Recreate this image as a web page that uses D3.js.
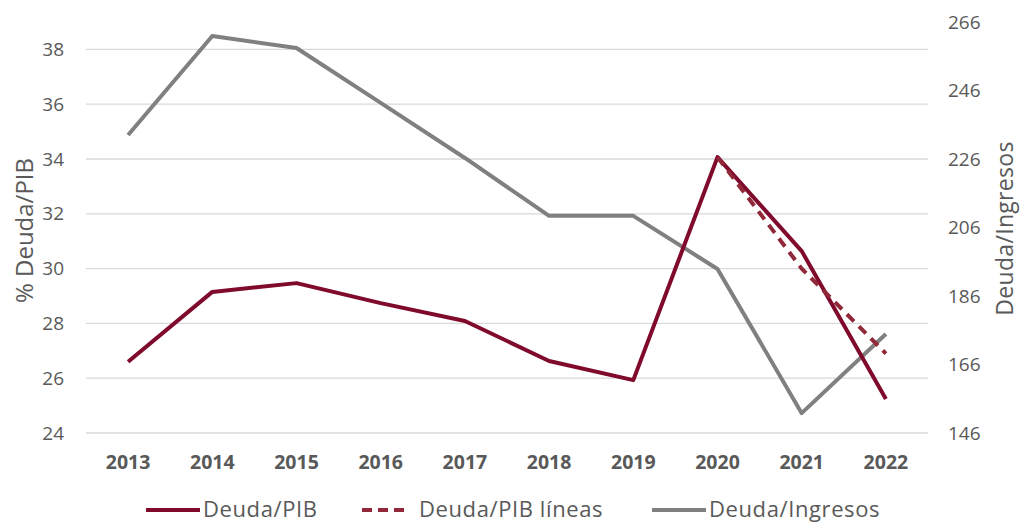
<!DOCTYPE html>
<html>
<head>
<meta charset="utf-8">
<script src="https://cdn.jsdelivr.net/npm/d3@7"></script>
<style>
  body { margin: 0; background: #fff; }
  text { font-family: "Open Sans", "Noto Sans", sans-serif; fill: #595959; }
</style>
</head>
<body>
<div id="graph"></div>
<script>
// données
const years = ["2013", "2014", "2015", "2016", "2017", "2018", "2019", "2020", "2021", "2022"]
const deudaPib = [26.6, 29.15, 29.47, 28.74, 28.09, 26.63, 25.93, 34.07, 30.64, 25.24]
const deudaPibLineas = [null, null, null, null, null, null, null, 34.07, 30.0, 26.9]
const deudaIngresos = [233.0, 261.9, 258.4, 242.4, 226.3, 209.4, 209.4, 193.9, 151.8, 174.9]
const leftTicks = [24, 26, 28, 30, 32, 34, 36, 38]
const rightTicks = [146, 166, 186, 206, 226, 246, 266]

let margin = { top: 22, right: 93, bottom: 91, left: 86 },
    width = 1021 - margin.left - margin.right,
    height = 524 - margin.top - margin.bottom;

let svg = d3.select("#graph")
    .append("svg")
    .attr("width", 1021)
    .attr("height", 524)
    .append("g")
    .attr("transform", "translate(" + margin.left + "," + margin.top + ")");

let x = d3.scaleBand()
    .domain(years)
    .range([0, width]);

let y = d3.scaleLinear()
    .domain([24, 39])
    .range([height, 0]);

let y2 = d3.scaleLinear()
    .domain([146, 266])
    .range([height, 0]);

// grille
svg.append("g")
    .selectAll("line")
    .data(leftTicks)
    .join("line")
    .attr("x1", 0)
    .attr("x2", width)
    .attr("y1", d => y(d))
    .attr("y2", d => y(d))
    .attr("stroke", "#d9d9d9")
    .attr("stroke-width", 1.3)

// axe gauche
let axL = svg.append("g")
    .call(d3.axisLeft(y).tickValues(leftTicks).tickSize(0).tickPadding(22))
axL.select(".domain").remove()
axL.selectAll("text").style("font-size", "19px").style("fill", "#595959")

// axe droit
let axR = svg.append("g")
    .attr("transform", "translate(" + width + ",0)")
    .call(d3.axisRight(y2).tickValues(rightTicks).tickSize(0).tickPadding(20))
axR.select(".domain").remove()
axR.selectAll("text").style("font-size", "19px").style("fill", "#595959")

// axe X
let axX = svg.append("g")
    .attr("transform", "translate(0," + height + ")")
    .call(d3.axisBottom(x).tickSize(0).tickPadding(22))
axX.select(".domain").remove()
axX.selectAll("text").style("font-size", "19.5px").style("font-weight", "bold").style("fill", "#595959")

// titres
svg.append("text")
    .attr("transform", "translate(" + (-53) + "," + (height / 2 + 3) + ") rotate(-90)")
    .attr("text-anchor", "middle")
    .style("font-size", "24px")
    .text("% Deuda/PIB")

svg.append("text")
    .attr("transform", "translate(" + (width + 85) + "," + (height / 2 + 1) + ") rotate(-90)")
    .attr("text-anchor", "middle")
    .style("font-size", "23px")
    .style("letter-spacing", "0.3px")
    .text("Deuda/Ingresos")

let cx = d => x(d) + x.bandwidth() / 2

// lignes
let line1 = d3.line()
    .defined(d => d[1] !== null)
    .x(d => cx(d[0]))
    .y(d => y(d[1]))

let line2 = d3.line()
    .x(d => cx(d[0]))
    .y(d => y2(d[1]))

svg.append("path")
    .datum(years.map((yr, i) => [yr, deudaIngresos[i]]))
    .attr("d", line2)
    .attr("fill", "none")
    .attr("stroke", "#808080")
    .attr("stroke-width", 4)
    .attr("stroke-linejoin", "round")

svg.append("path")
    .datum(years.map((yr, i) => [yr, deudaPib[i]]))
    .attr("d", line1)
    .attr("fill", "none")
    .attr("stroke", "#7f0a2b")
    .attr("stroke-width", 4)
    .attr("stroke-linejoin", "round")

svg.append("path")
    .datum(years.map((yr, i) => [yr, deudaPibLineas[i]]))
    .attr("d", line1)
    .attr("fill", "none")
    .attr("stroke", "#902839")
    .attr("stroke-width", 4)
    .attr("stroke-dasharray", "10,7")

// légende
const legend = [
    { name: "Deuda/PIB", color: "#7f0a2b", dash: null, x: 146, len: 54 },
    { name: "Deuda/PIB líneas", color: "#902839", dash: "10,6", x: 362, len: 46 },
    { name: "Deuda/Ingresos", color: "#808080", dash: null, x: 652, len: 54 }
]

let lg = d3.select("svg").append("g")
legend.forEach(l => {
    lg.append("line")
        .attr("x1", l.x).attr("x2", l.x + l.len)
        .attr("y1", 510).attr("y2", 510)
        .attr("stroke", l.color)
        .attr("stroke-width", 4)
        .attr("stroke-dasharray", l.dash)
    lg.append("text")
        .attr("x", l.x + 57)
        .attr("y", 517)
        .style("font-size", "22px")
        .style("letter-spacing", "0.6px")
        .text(l.name)
})
</script>
</body>
</html>
